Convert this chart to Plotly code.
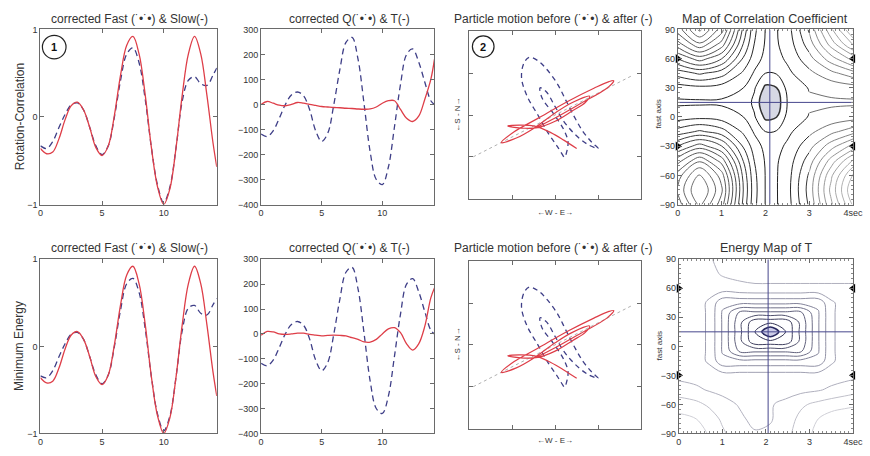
import plotly.graph_objects as go

W, H = 870, 456

# ---------------- time-series data ----------------
t = [0, 0.5, 1, 1.5, 2, 2.5, 3, 3.5, 4, 4.5, 5, 5.5, 6, 6.5, 7, 7.5, 8, 8.5, 9, 9.5,
     10, 10.5, 11, 11.5, 12, 12.5, 13, 13.5, 14, 14.3]

fast_rc = [-0.33, -0.36, -0.28, -0.12, 0.03, 0.14, 0.16, 0.08, -0.12, -0.33, -0.43, -0.33, 0.0, 0.42, 0.72,
           0.79, 0.62, 0.20, -0.35, -0.78, -0.98, -0.80, -0.35, 0.18, 0.42, 0.46, 0.38, 0.36, 0.48, 0.56]
slow_rc = [-0.36, -0.42, -0.40, -0.25, -0.03, 0.13, 0.17, 0.08, -0.12, -0.35, -0.44, -0.33, 0.02, 0.48, 0.82,
           0.92, 0.72, 0.25, -0.35, -0.80, -1.0, -0.82, -0.35, 0.25, 0.72, 0.92, 0.72, 0.25, -0.30, -0.57]
q_rc = [-118, -128, -105, -55, 0, 38, 50, 35, -20, -105, -148, -115, 0, 140, 248,
        268, 180, 0, -190, -300, -320, -250, -90, 80, 200, 222, 170, 90, 15, 0]
t_rc = [0, 12, 5, -3, -5, 0, 8, 5, 0, -4, -8, -10, -12, -13, -15,
        -16, -18, -19, -18, -10, 5, 15, 15, -20, -55, -68, -47, 20, 100, 180]

fast_me = [-0.34, -0.36, -0.28, -0.12, 0.03, 0.14, 0.16, 0.08, -0.12, -0.33, -0.43, -0.33, 0.0, 0.42, 0.72,
           0.78, 0.62, 0.20, -0.35, -0.78, -0.97, -0.80, -0.35, 0.18, 0.44, 0.47, 0.38, 0.36, 0.48, 0.55]
slow_me = slow_rc
q_me = q_rc
t_me = [-5, 10, 8, 0, -2, 0, 3, 3, -2, -5, -8, -6, -5, -6, -8,
        -15, -22, -32, -33, -22, 0, 20, 25, 5, -40, -65, -40, 30, 145, 185]

# ---------------- particle motion (E, N) ----------------
before_e = [0.2, 0.05, -0.15, -0.4, -0.65, -0.78, -0.72, -0.6, -0.4, -0.2, 0.05, 0.25, 0.45, 0.65,
            0.85, 1.0, 0.75, 0.45, 0.2, 0.0, -0.2, -0.35, -0.3, -0.05, 0.2, 0.3, 0.25]
before_n = [-1.0, -0.75, -0.45, 0.0, 0.45, 0.9, 1.25, 1.38, 1.3, 1.1, 0.75, 0.35, -0.05, -0.4,
            -0.65, -0.8, -0.7, -0.45, -0.15, 0.2, 0.55, 0.65, 0.4, 0.05, -0.35, -0.65, -0.95]
after_e = [0.5, 0.2, -0.1, -0.45, -0.8, -1.1, -0.8, -0.4, 0.0, 0.4, 0.7, 0.8, 0.4, 0.0, -0.5, -0.9,
           -1.25, -0.95, -0.4, 0.3, 0.9, 1.25, 1.36, 1.2, 0.6, 0.0, -0.4]
after_n = [-0.8, -0.6, -0.42, -0.27, -0.24, -0.26, -0.31, -0.3, -0.15, 0.1, 0.3, 0.45, 0.3, 0.05, -0.32, -0.55,
           -0.66, -0.4, -0.08, 0.33, 0.64, 0.8, 0.82, 0.64, 0.28, -0.07, -0.28]
pol_e = [-1.9, 1.8]
pol_n = [-1.0, 0.95]

# ---------------- correlation map grid ----------------
corr_dt = [0, 0.5, 1, 1.5, 1.75, 2.0, 2.25, 2.5, 3, 3.5, 4]
corr_phi = [-90, -75, -60, -45, -30, -15, 0, 15, 30, 45, 60, 75, 90]
corr_map = [
    [2.90, 3.73, 2.90, 1.15, 0.42, 0.04, 0.03, 0.21, 1.00, 2.09, 3.10],
    [3.11, 4.00, 3.11, 1.23, 0.45, 0.04, 0.03, 0.23, 1.07, 2.24, 3.33],
    [2.90, 3.73, 2.90, 1.15, 0.42, 0.04, 0.03, 0.21, 1.00, 2.09, 3.10],
    [2.33, 3.00, 2.33, 0.93, 0.34, 0.02, 0.02, 0.17, 0.80, 1.68, 2.50],
    [1.56, 2.00, 1.56, 0.61, 0.20, -0.04, -0.04, 0.10, 0.54, 1.12, 1.66],
    [0.78, 1.00, 0.78, 0.29, 0.01, -0.25, -0.23, -0.02, 0.27, 0.56, 0.83],
    [0.21, 0.27, 0.21, 0.05, -0.22, -0.62, -0.56, -0.17, 0.07, 0.15, 0.22],
    [0.00, 0.00, 0.00, -0.05, -0.33, -0.83, -0.75, -0.24, 0.00, 0.00, 0.00],
    [0.21, 0.27, 0.21, 0.05, -0.22, -0.62, -0.56, -0.17, 0.07, 0.15, 0.22],
    [0.78, 1.00, 0.78, 0.29, 0.01, -0.25, -0.23, -0.02, 0.27, 0.56, 0.83],
    [1.56, 2.00, 1.56, 0.61, 0.20, -0.04, -0.04, 0.10, 0.54, 1.12, 1.66],
    [2.33, 3.00, 2.33, 0.93, 0.34, 0.02, 0.02, 0.17, 0.80, 1.68, 2.50],
    [2.90, 3.73, 2.90, 1.15, 0.42, 0.04, 0.03, 0.21, 1.00, 2.09, 3.10],
]

# ---------------- energy map grid ----------------
en_dt = [0, 0.4, 0.7, 1.0, 1.4, 1.75, 2.1, 2.45, 2.8, 3.2, 3.5, 3.8, 4.0]
en_phi = [-90, -75, -60, -45, -30, -15, -5, 5, 15, 25, 35, 45, 60, 75, 90]
en_map = [
    [1.42, 1.40, 1.34, 1.26, 1.17, 1.14, 1.15, 1.20, 1.30, 1.38, 1.44, 1.46, 1.47],
    [1.38, 1.35, 1.30, 1.22, 1.15, 1.10, 1.12, 1.18, 1.27, 1.35, 1.40, 1.42, 1.43],
    [1.30, 1.27, 1.22, 1.17, 1.12, 1.10, 1.12, 1.16, 1.22, 1.27, 1.30, 1.32, 1.33],
    [1.18, 1.15, 1.12, 1.10, 1.08, 1.07, 1.07, 1.08, 1.10, 1.12, 1.15, 1.18, 1.20],
    [1.10, 1.09, 1.08, 1.07, 1.07, 1.07, 1.07, 1.07, 1.07, 1.07, 1.08, 1.09, 1.10],
    [1.07, 1.07, 1.00, 0.83, 0.83, 0.83, 0.83, 0.83, 0.83, 0.83, 1.00, 1.07, 1.07],
    [1.07, 1.07, 1.00, 0.79, 0.56, 0.56, 0.56, 0.56, 0.56, 0.79, 1.00, 1.07, 1.07],
    [1.07, 1.07, 1.00, 0.79, 0.50, 0.28, 0.28, 0.28, 0.50, 0.79, 1.00, 1.07, 1.07],
    [1.07, 1.07, 1.00, 0.79, 0.50, 0.25, 0.00, 0.25, 0.50, 0.79, 1.00, 1.07, 1.07],
    [1.07, 1.07, 1.00, 0.79, 0.50, 0.28, 0.28, 0.28, 0.50, 0.79, 1.00, 1.07, 1.07],
    [1.07, 1.07, 1.00, 0.79, 0.56, 0.56, 0.56, 0.56, 0.56, 0.79, 1.00, 1.07, 1.07],
    [1.07, 1.07, 1.00, 0.83, 0.83, 0.83, 0.83, 0.83, 0.83, 0.83, 1.00, 1.07, 1.07],
    [1.07, 1.07, 1.07, 1.08, 1.10, 1.11, 1.11, 1.11, 1.11, 1.11, 1.11, 1.11, 1.11],
    [1.07, 1.08, 1.10, 1.14, 1.16, 1.17, 1.17, 1.17, 1.17, 1.17, 1.17, 1.17, 1.17],
    [1.07, 1.08, 1.12, 1.16, 1.18, 1.19, 1.19, 1.19, 1.19, 1.19, 1.19, 1.19, 1.19],
]

best_dt = [2.1, 2.05]        # crosshair (correlation, energy)
best_phi = [15, 15]
marker_phi = [60, -30]
map_ticks = [0, 1, 2, 3, 4]
map_ticktext = ['0', '1', '2', '3', '4sec']

# ---------------- styling ----------------
RED = 'rgb(222,62,72)'
BLUE = 'rgb(62,62,135)'
NAVY = 'rgb(70,70,140)'
FONT = 'Liberation Sans, Arial, sans-serif'

fig = go.Figure()

panels = {1: (38, 217, 25, 204), 2: (262, 438, 25, 204), 3: (473, 648, 27, 198), 4: (685, 863, 25, 204),
          5: (38, 217, 260, 438), 6: (262, 438, 260, 438), 7: (473, 648, 262, 433), 8: (686, 863, 260, 438)}


def ax(i):
    return ('x' if i == 1 else f'x{i}'), ('y' if i == 1 else f'y{i}')


base = dict(showline=True, linecolor='#6a6a6a', linewidth=1, mirror='ticks', ticks='inside', ticklen=4,
            tickcolor='#6a6a6a', tickfont=dict(size=9, color='#333', family=FONT), showgrid=False,
            zeroline=False, layer='above traces', ticklabeloverflow='allow')

layout_axes = {}
for i, (x0, x1, y0, y1) in panels.items():
    xa = dict(base, domain=[x0 / W, x1 / W], anchor=ax(i)[1])
    ya = dict(base, domain=[1 - y1 / H, 1 - y0 / H], anchor=ax(i)[0])
    if i in (1, 5):
        xa.update(range=[0, 14.3], tickvals=[0, 5, 10])
        ya.update(range=[-1, 1], tickvals=[-1, 0, 1])
    elif i in (2, 6):
        xa.update(range=[0, 14.3], tickvals=[0, 5, 10])
        ya.update(range=[-400, 300], tickvals=[-400, -300, -200, -100, 0, 100, 200, 300])
    elif i in (3, 7):
        xa.update(range=[-2, 2], tickvals=[-1, 0, 1], showticklabels=False)
        ya.update(range=[-2, 2], tickvals=[-1, 0, 1], showticklabels=False)
    else:
        xa.update(range=[0, 4], tickvals=map_ticks, ticktext=map_ticktext,
                  minor=dict(ticks='inside', ticklen=2, dtick=0.1, tickcolor='#888'))
        ya.update(range=[-90, 90], tickvals=[-90, -60, -30, 0, 30, 60, 90],
                  minor=dict(ticks='inside', ticklen=2, dtick=5, tickcolor='#888'))
    layout_axes['xaxis' if i == 1 else f'xaxis{i}'] = xa
    layout_axes['yaxis' if i == 1 else f'yaxis{i}'] = ya

# time series
for i, fa, sl in ((1, fast_rc, slow_rc), (5, fast_me, slow_me)):
    xr, yr = ax(i)
    fig.add_trace(go.Scatter(x=t, y=fa, mode='lines', line=dict(color=BLUE, width=1.3, dash='6px,4px',
                             shape='spline', smoothing=1.0), xaxis=xr, yaxis=yr, showlegend=False))
    fig.add_trace(go.Scatter(x=t, y=sl, mode='lines', line=dict(color=RED, width=1.3, shape='spline',
                             smoothing=1.0), xaxis=xr, yaxis=yr, showlegend=False))
for i, q, tt in ((2, q_rc, t_rc), (6, q_me, t_me)):
    xr, yr = ax(i)
    fig.add_trace(go.Scatter(x=t, y=q, mode='lines', line=dict(color=BLUE, width=1.3, dash='6px,4px',
                             shape='spline', smoothing=1.0), xaxis=xr, yaxis=yr, showlegend=False))
    fig.add_trace(go.Scatter(x=t, y=tt, mode='lines', line=dict(color=RED, width=1.3, shape='spline',
                             smoothing=1.0), xaxis=xr, yaxis=yr, showlegend=False))

# particle motion
for i in (3, 7):
    xr, yr = ax(i)
    fig.add_trace(go.Scatter(x=pol_e, y=pol_n, mode='lines', line=dict(color='#b0b0b0', width=1, dash='dot'),
                             xaxis=xr, yaxis=yr, showlegend=False))
    fig.add_trace(go.Scatter(x=before_e, y=before_n, mode='lines', line=dict(color=BLUE, width=1.3,
                             dash='5px,4px', shape='spline', smoothing=1.0), xaxis=xr, yaxis=yr, showlegend=False))
    fig.add_trace(go.Scatter(x=after_e, y=after_n, mode='lines', line=dict(color=RED, width=1.2,
                             shape='spline', smoothing=1.0), xaxis=xr, yaxis=yr, showlegend=False))

# correlation map: shaded optimum, then lines (darker left part, lighter right part)
xr, yr = ax(4)
split = corr_dt.index(3)
fig.add_trace(go.Contour(x=corr_dt, y=corr_phi, z=corr_map, showscale=False, hoverinfo='skip',
                         contours=dict(type='constraint', operation='>', value=-0.55),
                         fillcolor='rgb(214,216,228)', line=dict(color='#333', width=1.5, smoothing=1.0),
                         xaxis=xr, yaxis=yr))
fig.add_trace(go.Contour(x=corr_dt[:split + 1], y=corr_phi, z=[r[:split + 1] for r in corr_map],
                         showscale=False, hoverinfo='skip',
                         contours=dict(coloring='lines', start=-0.25, end=3.65, size=0.3),
                         colorscale=[[0, '#1a1a1a'], [0.5, '#4a4a4a'], [1, '#707070']], zmin=-0.3, zmax=3.7,
                         line=dict(width=1, smoothing=1.0), xaxis=xr, yaxis=yr))
fig.add_trace(go.Contour(x=corr_dt[split:], y=corr_phi, z=[r[split:] for r in corr_map],
                         showscale=False, hoverinfo='skip',
                         contours=dict(coloring='lines', start=-0.25, end=3.65, size=0.3),
                         colorscale=[[0, '#666666'], [1, '#c0c0c0']], zmin=-0.3, zmax=3.4,
                         line=dict(width=1, smoothing=1.0), xaxis=xr, yaxis=yr))

# energy map
xr8, yr8 = ax(8)
fig.add_trace(go.Contour(x=en_dt, y=en_phi, z=en_map, showscale=False, hoverinfo='skip',
                         contours=dict(type='constraint', operation='>', value=0.14),
                         fillcolor='rgb(205,205,232)', line=dict(color='#2a2a60', width=1.6, smoothing=1.0),
                         xaxis=xr8, yaxis=yr8))
fig.add_trace(go.Contour(x=en_dt, y=en_phi, z=en_map, showscale=False, hoverinfo='skip',
                         contours=dict(coloring='lines', start=0.25, end=1.35, size=0.11),
                         colorscale=[[0, '#303050'], [0.55, '#8a8aa0'], [1, '#cfcfd6']], zmin=0.1, zmax=1.45,
                         line=dict(width=1, smoothing=1.0), xaxis=xr8, yaxis=yr8))

# crosshairs and phi markers
for k, i in enumerate((4, 8)):
    xr, yr = ax(i)
    fig.add_trace(go.Scatter(x=[best_dt[k], best_dt[k]], y=[-90, 90], mode='lines',
                             line=dict(color=NAVY, width=1), xaxis=xr, yaxis=yr, showlegend=False))
    fig.add_trace(go.Scatter(x=[0, 4], y=[best_phi[k], best_phi[k]], mode='lines',
                             line=dict(color=NAVY, width=1), xaxis=xr, yaxis=yr, showlegend=False))
    fig.add_trace(go.Scatter(x=[0] * len(marker_phi), y=marker_phi, mode='markers', cliponaxis=False,
                             marker=dict(symbol='triangle-right', size=8, color='black'),
                             xaxis=xr, yaxis=yr, showlegend=False))
    fig.add_trace(go.Scatter(x=[4] * len(marker_phi), y=marker_phi, mode='markers', cliponaxis=False,
                             marker=dict(symbol='triangle-left', size=8, color='black'),
                             xaxis=xr, yaxis=yr, showlegend=False))

# ---------------- text ----------------
annotations = []


def text(xp, yp, s, size=12, angle=0, color='#333', bold=False):
    annotations.append(dict(x=xp / W, y=1 - yp / H, xref='paper', yref='paper', text=(f'<b>{s}</b>' if bold else s),
                            showarrow=False, textangle=angle, xanchor='center', yanchor='middle',
                            font=dict(size=size, color=color, family=FONT)))


for yp in (14, 248):
    text(128, yp, 'corrected Fast (˙•˙•) & Slow(-)', 12)
    text(352, yp, 'corrected Q(˙•˙•) & T(-)', 12)
    text(558, yp, 'Particle motion before (˙•˙•) & after (-)', 12)
text(774, 14, 'Map of Correlation Coefficient', 12.5)
text(775, 248, 'Energy Map of T', 12.5)

text(17, 114, 'Rotation-Correlation', 12, -90)
text(17, 349, 'Minimum Energy', 12, -90)
for yc, yl in ((112, 212), (347, 445)):
    text(461, yc, '←S - N→', 8, -90)
    text(560, yl, '←W - E→', 8)
text(665, 112, 'fast axis', 8, -90)
text(666, 349, 'fast axis', 8, -90)

text(52, 43, '1', 11, bold=True, color='#111')
text(487.5, 42.5, '2', 11, bold=True, color='#111')

shapes = [
    dict(type='circle', xref='paper', yref='paper', x0=40 / W, x1=64 / W, y0=1 - 55 / H, y1=1 - 31 / H,
         line=dict(color='#222', width=1.2)),
    dict(type='circle', xref='paper', yref='paper', x0=476.5 / W, x1=498.5 / W, y0=1 - 53.5 / H, y1=1 - 31.5 / H,
         line=dict(color='#222', width=1.2)),
]

fig.update_layout(width=W, height=H, margin=dict(l=0, r=0, t=0, b=0), paper_bgcolor='white',
                  plot_bgcolor='white', showlegend=False, annotations=annotations, shapes=shapes,
                  font=dict(family=FONT), **layout_axes)

fig.write_html('out.html')
